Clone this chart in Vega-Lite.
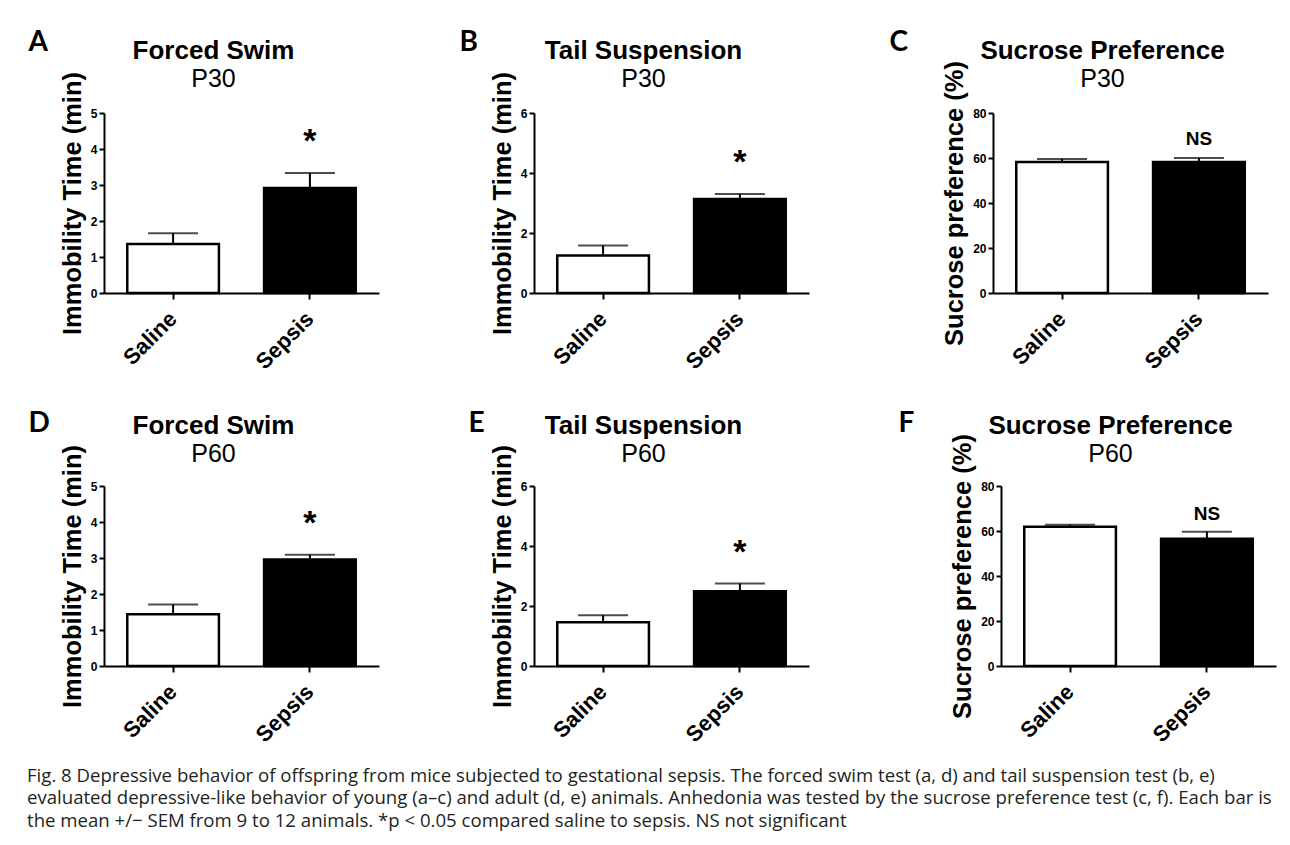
{
  "$schema": "https://vega.github.io/schema/vega-lite/v6.json",
  "background": "white",
  "padding": {"left": 27, "top": 28, "right": 10, "bottom": 5},
  "title": {
    "text": [
      "Fig. 8 Depressive behavior of offspring from mice subjected to gestational sepsis. The forced swim test (a, d) and tail suspension test (b, e)",
      "evaluated depressive-like behavior of young (a–c) and adult (d, e) animals. Anhedonia was tested by the sucrose preference test (c, f). Each bar is",
      "the mean +/− SEM from 9 to 12 animals. *p < 0.05 compared saline to sepsis. NS not significant"
    ],
    "orient": "bottom",
    "anchor": "start",
    "frame": "bounds",
    "font": "Open Sans",
    "fontSize": 18.6,
    "fontWeight": "normal",
    "color": "#231f20",
    "lineHeight": 22.5,
    "offset": 21,
    "dx": -1
  },
  "datasets": {
    "bars": [
      {"panel": "A", "group": "Saline", "mean": 1.36, "upper": 1.66, "sig": ""},
      {"panel": "A", "group": "Sepsis", "mean": 2.92, "upper": 3.33, "sig": "*"},
      {"panel": "B", "group": "Saline", "mean": 1.25, "upper": 1.58, "sig": ""},
      {"panel": "B", "group": "Sepsis", "mean": 3.13, "upper": 3.30, "sig": "*"},
      {"panel": "C", "group": "Saline", "mean": 58.2, "upper": 59.6, "sig": ""},
      {"panel": "C", "group": "Sepsis", "mean": 58.2, "upper": 60.0, "sig": "NS"},
      {"panel": "D", "group": "Saline", "mean": 1.44, "upper": 1.71, "sig": ""},
      {"panel": "D", "group": "Sepsis", "mean": 2.96, "upper": 3.09, "sig": "*"},
      {"panel": "E", "group": "Saline", "mean": 1.46, "upper": 1.69, "sig": ""},
      {"panel": "E", "group": "Sepsis", "mean": 2.49, "upper": 2.75, "sig": "*"},
      {"panel": "F", "group": "Saline", "mean": 61.9, "upper": 62.8, "sig": ""},
      {"panel": "F", "group": "Sepsis", "mean": 56.6, "upper": 59.7, "sig": "NS"}
    ]
  },
  "spacing": 36,
  "vconcat": [
    {
      "spacing": 80,
      "hconcat": [
        {
          "width": 275, "height": 180,
          "title": {"text": "Forced Swim", "subtitle": "P30", "offset": -64},
          "data": {"name": "bars"},
          "transform": [{"filter": "datum.panel === 'A'"}],
          "encoding": {
            "x": {"field": "group", "type": "nominal", "sort": null,
                  "scale": {"domain": ["Saline", "Sepsis"], "paddingInner": 0.33, "paddingOuter": 0.17},
                  "axis": {"title": "A", "titleX": -76, "titleY": -243}}
          },
          "layer": [
            {"mark": {"type": "bar", "stroke": "black", "strokeWidth": 2.5},
             "encoding": {
               "y": {"field": "mean", "type": "quantitative", "scale": {"domain": [0, 5]},
                     "axis": {"title": "Immobility Time (min)", "values": [0, 1, 2, 3, 4, 5]}},
               "fill": {"field": "group", "type": "nominal", "scale": {"domain": ["Saline", "Sepsis"], "range": ["white", "black"]}, "legend": null}
             }},
            {"mark": {"type": "rule", "color": "black", "strokeWidth": 2},
             "encoding": {"y": {"field": "mean", "type": "quantitative", "axis": {"title": "Immobility Time (min)", "values": [0, 1, 2, 3, 4, 5]}}, "y2": {"field": "upper"}}},
            {"mark": {"type": "tick", "color": "black", "size": 50, "thickness": 2},
             "encoding": {"y": {"field": "upper", "type": "quantitative", "axis": {"title": "Immobility Time (min)", "values": [0, 1, 2, 3, 4, 5]}}}},
            {"mark": {"type": "text", "font": "Liberation Sans", "fontSize": 34, "fontWeight": "bold", "baseline": "alphabetic", "dy": -21, "color": "black"},
             "encoding": {"y": {"field": "upper", "type": "quantitative", "axis": {"title": "Immobility Time (min)", "values": [0, 1, 2, 3, 4, 5]}}, "text": {"field": "sig"}}}
          ]
        },
        {
          "width": 275, "height": 180,
          "title": {"text": "Tail Suspension", "subtitle": "P30", "offset": -64},
          "data": {"name": "bars"},
          "transform": [{"filter": "datum.panel === 'B'"}],
          "encoding": {
            "x": {"field": "group", "type": "nominal", "sort": null,
                  "scale": {"domain": ["Saline", "Sepsis"], "paddingInner": 0.33, "paddingOuter": 0.17},
                  "axis": {"title": "B", "titleX": -75, "titleY": -243}}
          },
          "layer": [
            {"mark": {"type": "bar", "stroke": "black", "strokeWidth": 2.5},
             "encoding": {
               "y": {"field": "mean", "type": "quantitative", "scale": {"domain": [0, 6]},
                     "axis": {"title": "Immobility Time (min)", "values": [0, 2, 4, 6]}},
               "fill": {"field": "group", "type": "nominal", "scale": {"domain": ["Saline", "Sepsis"], "range": ["white", "black"]}, "legend": null}
             }},
            {"mark": {"type": "rule", "color": "black", "strokeWidth": 2},
             "encoding": {"y": {"field": "mean", "type": "quantitative", "axis": {"title": "Immobility Time (min)", "values": [0, 2, 4, 6]}}, "y2": {"field": "upper"}}},
            {"mark": {"type": "tick", "color": "black", "size": 50, "thickness": 2},
             "encoding": {"y": {"field": "upper", "type": "quantitative", "axis": {"title": "Immobility Time (min)", "values": [0, 2, 4, 6]}}}},
            {"mark": {"type": "text", "font": "Liberation Sans", "fontSize": 34, "fontWeight": "bold", "baseline": "alphabetic", "dy": -21, "color": "black"},
             "encoding": {"y": {"field": "upper", "type": "quantitative", "axis": {"title": "Immobility Time (min)", "values": [0, 2, 4, 6]}}, "text": {"field": "sig"}}}
          ]
        },
        {
          "width": 275, "height": 180,
          "title": {"text": "Sucrose Preference", "subtitle": "P30", "offset": -64},
          "data": {"name": "bars"},
          "transform": [{"filter": "datum.panel === 'C'"}],
          "encoding": {
            "x": {"field": "group", "type": "nominal", "sort": null,
                  "scale": {"domain": ["Saline", "Sepsis"], "paddingInner": 0.33, "paddingOuter": 0.17},
                  "axis": {"title": "C", "titleX": -104, "titleY": -243}}
          },
          "layer": [
            {"mark": {"type": "bar", "stroke": "black", "strokeWidth": 2.5},
             "encoding": {
               "y": {"field": "mean", "type": "quantitative", "scale": {"domain": [0, 80]},
                     "axis": {"title": "Sucrose preference (%)", "values": [0, 20, 40, 60, 80]}},
               "fill": {"field": "group", "type": "nominal", "scale": {"domain": ["Saline", "Sepsis"], "range": ["white", "black"]}, "legend": null}
             }},
            {"mark": {"type": "rule", "color": "black", "strokeWidth": 2},
             "encoding": {"y": {"field": "mean", "type": "quantitative", "axis": {"title": "Sucrose preference (%)", "values": [0, 20, 40, 60, 80]}}, "y2": {"field": "upper"}}},
            {"mark": {"type": "tick", "color": "black", "size": 50, "thickness": 2},
             "encoding": {"y": {"field": "upper", "type": "quantitative", "axis": {"title": "Sucrose preference (%)", "values": [0, 20, 40, 60, 80]}}}},
            {"mark": {"type": "text", "font": "Liberation Sans", "fontSize": 19, "fontWeight": "bold", "baseline": "alphabetic", "dy": -13, "color": "black"},
             "encoding": {"y": {"field": "upper", "type": "quantitative", "axis": {"title": "Sucrose preference (%)", "values": [0, 20, 40, 60, 80]}}, "text": {"field": "sig"}}}
          ]
        }
      ]
    },
    {
      "spacing": 89,
      "hconcat": [
        {
          "width": 275, "height": 180,
          "title": {"text": "Forced Swim", "subtitle": "P60", "offset": -58},
          "data": {"name": "bars"},
          "transform": [{"filter": "datum.panel === 'D'"}],
          "encoding": {
            "x": {"field": "group", "type": "nominal", "sort": null,
                  "scale": {"domain": ["Saline", "Sepsis"], "paddingInner": 0.33, "paddingOuter": 0.17},
                  "axis": {"title": "D", "titleX": -76, "titleY": -235}}
          },
          "layer": [
            {"mark": {"type": "bar", "stroke": "black", "strokeWidth": 2.5},
             "encoding": {
               "y": {"field": "mean", "type": "quantitative", "scale": {"domain": [0, 5]},
                     "axis": {"title": "Immobility Time (min)", "values": [0, 1, 2, 3, 4, 5]}},
               "fill": {"field": "group", "type": "nominal", "scale": {"domain": ["Saline", "Sepsis"], "range": ["white", "black"]}, "legend": null}
             }},
            {"mark": {"type": "rule", "color": "black", "strokeWidth": 2},
             "encoding": {"y": {"field": "mean", "type": "quantitative", "axis": {"title": "Immobility Time (min)", "values": [0, 1, 2, 3, 4, 5]}}, "y2": {"field": "upper"}}},
            {"mark": {"type": "tick", "color": "black", "size": 50, "thickness": 2},
             "encoding": {"y": {"field": "upper", "type": "quantitative", "axis": {"title": "Immobility Time (min)", "values": [0, 1, 2, 3, 4, 5]}}}},
            {"mark": {"type": "text", "font": "Liberation Sans", "fontSize": 34, "fontWeight": "bold", "baseline": "alphabetic", "dy": -21, "color": "black"},
             "encoding": {"y": {"field": "upper", "type": "quantitative", "axis": {"title": "Immobility Time (min)", "values": [0, 1, 2, 3, 4, 5]}}, "text": {"field": "sig"}}}
          ]
        },
        {
          "width": 275, "height": 180,
          "title": {"text": "Tail Suspension", "subtitle": "P60", "offset": -58},
          "data": {"name": "bars"},
          "transform": [{"filter": "datum.panel === 'E'"}],
          "encoding": {
            "x": {"field": "group", "type": "nominal", "sort": null,
                  "scale": {"domain": ["Saline", "Sepsis"], "paddingInner": 0.33, "paddingOuter": 0.17},
                  "axis": {"title": "E", "titleX": -66, "titleY": -235}}
          },
          "layer": [
            {"mark": {"type": "bar", "stroke": "black", "strokeWidth": 2.5},
             "encoding": {
               "y": {"field": "mean", "type": "quantitative", "scale": {"domain": [0, 6]},
                     "axis": {"title": "Immobility Time (min)", "values": [0, 2, 4, 6]}},
               "fill": {"field": "group", "type": "nominal", "scale": {"domain": ["Saline", "Sepsis"], "range": ["white", "black"]}, "legend": null}
             }},
            {"mark": {"type": "rule", "color": "black", "strokeWidth": 2},
             "encoding": {"y": {"field": "mean", "type": "quantitative", "axis": {"title": "Immobility Time (min)", "values": [0, 2, 4, 6]}}, "y2": {"field": "upper"}}},
            {"mark": {"type": "tick", "color": "black", "size": 50, "thickness": 2},
             "encoding": {"y": {"field": "upper", "type": "quantitative", "axis": {"title": "Immobility Time (min)", "values": [0, 2, 4, 6]}}}},
            {"mark": {"type": "text", "font": "Liberation Sans", "fontSize": 34, "fontWeight": "bold", "baseline": "alphabetic", "dy": -21, "color": "black"},
             "encoding": {"y": {"field": "upper", "type": "quantitative", "axis": {"title": "Immobility Time (min)", "values": [0, 2, 4, 6]}}, "text": {"field": "sig"}}}
          ]
        },
        {
          "width": 275, "height": 180,
          "title": {"text": "Sucrose Preference", "subtitle": "P60", "offset": -58},
          "data": {"name": "bars"},
          "transform": [{"filter": "datum.panel === 'F'"}],
          "encoding": {
            "x": {"field": "group", "type": "nominal", "sort": null,
                  "scale": {"domain": ["Saline", "Sepsis"], "paddingInner": 0.33, "paddingOuter": 0.17},
                  "axis": {"title": "F", "titleX": -103, "titleY": -235}}
          },
          "layer": [
            {"mark": {"type": "bar", "stroke": "black", "strokeWidth": 2.5},
             "encoding": {
               "y": {"field": "mean", "type": "quantitative", "scale": {"domain": [0, 80]},
                     "axis": {"title": "Sucrose preference (%)", "values": [0, 20, 40, 60, 80]}},
               "fill": {"field": "group", "type": "nominal", "scale": {"domain": ["Saline", "Sepsis"], "range": ["white", "black"]}, "legend": null}
             }},
            {"mark": {"type": "rule", "color": "black", "strokeWidth": 2},
             "encoding": {"y": {"field": "mean", "type": "quantitative", "axis": {"title": "Sucrose preference (%)", "values": [0, 20, 40, 60, 80]}}, "y2": {"field": "upper"}}},
            {"mark": {"type": "tick", "color": "black", "size": 50, "thickness": 2},
             "encoding": {"y": {"field": "upper", "type": "quantitative", "axis": {"title": "Sucrose preference (%)", "values": [0, 20, 40, 60, 80]}}}},
            {"mark": {"type": "text", "font": "Liberation Sans", "fontSize": 19, "fontWeight": "bold", "baseline": "alphabetic", "dy": -12, "color": "black"},
             "encoding": {"y": {"field": "upper", "type": "quantitative", "axis": {"title": "Sucrose preference (%)", "values": [0, 20, 40, 60, 80]}}, "text": {"field": "sig"}}}
          ]
        }
      ]
    }
  ],
  "config": {
    "view": {"stroke": null},
    "title": {
      "font": "Liberation Sans", "fontSize": 26, "fontWeight": "bold", "color": "black",
      "subtitleFont": "Liberation Sans", "subtitleFontSize": 25, "subtitleFontWeight": "normal", "subtitleColor": "black",
      "subtitlePadding": 3, "dx": -28, "anchor": "middle", "frame": "group"
    },
    "axis": {
      "grid": false, "domainColor": "black", "domainWidth": 2,
      "tickColor": "black", "tickWidth": 2, "tickSize": 5,
      "labelFont": "Liberation Sans", "labelFontWeight": "bold", "labelColor": "black",
      "titleFont": "Liberation Sans", "titleFontWeight": "bold", "titleColor": "black"
    },
    "axisY": {"labelFontSize": 12, "labelPadding": 2, "labelOverlap": false, "titleFontSize": 25.5, "titlePadding": 5},
    "axisX": {
      "labelAngle": -45, "labelAlign": "right", "labelBaseline": "middle", "labelFontSize": 22, "labelPadding": 16, "tickSize": 6,
      "titleFont": "Lato", "titleFontSize": 28, "titleFontWeight": "bold", "titleAlign": "left", "titleBaseline": "alphabetic", "titleAngle": 0
    }
  }
}
